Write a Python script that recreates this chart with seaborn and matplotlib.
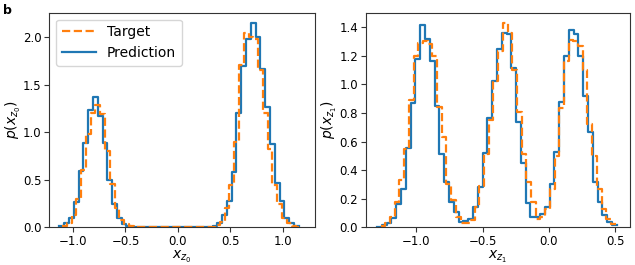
import numpy as np
import pandas as pd
import matplotlib
matplotlib.use("Agg")
import matplotlib.pyplot as plt
import seaborn as sns

# ---------------- data (densities) ----------------
# panel 1: x_{z0}
z0_pred_start, z0_pred_width = -1.129, 0.0456
z0_pred = [0.01, 0.05, 0.10, 0.27, 0.59, 0.89, 1.23, 1.37, 1.17, 0.89,
           0.50, 0.25, 0.10, 0.035, 0.01, 0.003, 0.0, 0.0, 0.0, 0.0,
           0.0, 0.0, 0.0, 0.0, 0.0, 0.0, 0.0, 0.0, 0.0, 0.0,
           0.0, 0.003, 0.015, 0.05, 0.13, 0.28, 0.58, 1.20, 1.70, 1.98,
           2.15, 2.00, 1.66, 1.27, 0.88, 0.47, 0.28, 0.10, 0.04, 0.01]
z0_target_start, z0_target_width = -1.105, 0.0456
z0_target = [0.01, 0.05, 0.13, 0.30, 0.60, 0.98, 1.20, 1.29, 1.19, 0.80,
             0.46, 0.20, 0.08, 0.03, 0.01, 0.003, 0.0, 0.0, 0.0, 0.0,
             0.0, 0.0, 0.0, 0.0, 0.0, 0.0, 0.0, 0.0, 0.0, 0.0,
             0.0, 0.005, 0.02, 0.06, 0.20, 0.45, 0.90, 1.71, 2.04, 2.00,
             1.98, 1.65, 1.20, 0.82, 0.45, 0.25, 0.10, 0.04, 0.015, 0.005]

# panel 2: x_{z1}
z1_pred_start, z1_pred_width = -1.297, 0.0362
z1_pred = [0.005, 0.015, 0.03, 0.065, 0.16, 0.27, 0.555, 0.87, 1.175, 1.415,
           1.32, 1.16, 0.85, 0.51, 0.32, 0.18, 0.105, 0.04, 0.045, 0.06,
           0.145, 0.285, 0.52, 0.765, 1.02, 1.245, 1.36, 1.355, 1.115, 0.74,
           0.45, 0.17, 0.075, 0.07, 0.095, 0.14, 0.30, 0.526, 0.877, 1.20,
           1.38, 1.35, 1.20, 0.917, 0.667, 0.32, 0.18, 0.087, 0.04, 0.016]
z1_target_start, z1_target_width = -1.27, 0.0355
z1_target = [0.01, 0.03, 0.075, 0.18, 0.33, 0.55, 0.89, 1.20, 1.29, 1.30,
             1.28, 1.20, 0.84, 0.63, 0.30, 0.19, 0.075, 0.033, 0.03, 0.05,
             0.14, 0.29, 0.51, 0.75, 1.02, 1.23, 1.43, 1.36, 1.10, 0.81,
             0.51, 0.32, 0.18, 0.06, 0.075, 0.13, 0.27, 0.50, 0.835, 1.16,
             1.31, 1.30, 1.27, 1.10, 0.72, 0.50, 0.27, 0.13, 0.06, 0.025]

labels = ["Target", "Prediction"]
xlabels = [r"$x_{z_0}$", r"$x_{z_1}$"]
ylabels = [r"$p(x_{z_0})$", r"$p(x_{z_1})$"]

BLUE = "#1f77b4"
ORANGE = "#ff7f0e"


def edges_of(start, width, n):
    return start + width * np.arange(n + 1)


def draw(ax, start, width, vals, **kw):
    vals = np.asarray(vals, dtype=float)
    e = edges_of(start, width, len(vals))
    centers = (e[:-1] + e[1:]) / 2
    df = pd.DataFrame({"x": centers, "w": vals})
    sns.histplot(data=df, x="x", weights="w", bins=list(e), element="step",
                 fill=False, stat="count", ax=ax, **kw)


fig = plt.figure(figsize=(6.35, 2.65), dpi=100)
ax1 = fig.add_axes([49.3 / 635, 1 - 227.3 / 265, (315 - 49.3) / 635, (227.3 - 12.7) / 265])
ax2 = fig.add_axes([365.7 / 635, 1 - 227.3 / 265, (630 - 365.7) / 635, (227.3 - 12.7) / 265])

panels = [
    (ax1, (z0_pred_start, z0_pred_width, z0_pred), (z0_target_start, z0_target_width, z0_target), (-1.226, 1.307)),
    (ax2, (z1_pred_start, z1_pred_width, z1_pred), (z1_target_start, z1_target_width, z1_target), (-1.383, 0.613)),
]

for i, (ax, pred, targ, xl) in enumerate(panels):
    draw(ax, *pred, color=BLUE, linewidth=1.6)
    draw(ax, *targ, color=ORANGE, linewidth=1.6, linestyle="--")
    ax.set_xlim(*xl)
    ax.set_ylim(bottom=0)
    ax.set_xlabel(xlabels[i], fontsize=10, labelpad=1)
    ax.set_ylabel(ylabels[i], fontsize=10, labelpad=0)
    ax.tick_params(labelsize=8.5, length=3.5, pad=2, color="#333333")
    for s in ax.spines.values():
        s.set_edgecolor("#333333")

lines = ax1.get_lines()
ax1.legend([lines[1], lines[0]], labels, loc="upper left", fontsize=10,
           frameon=True, borderaxespad=0.5, handlelength=2.45)

fig.text(0.004, 0.985, "b", fontsize=9, fontweight="bold", va="top", ha="left")

fig.savefig("out.png", dpi=100)
